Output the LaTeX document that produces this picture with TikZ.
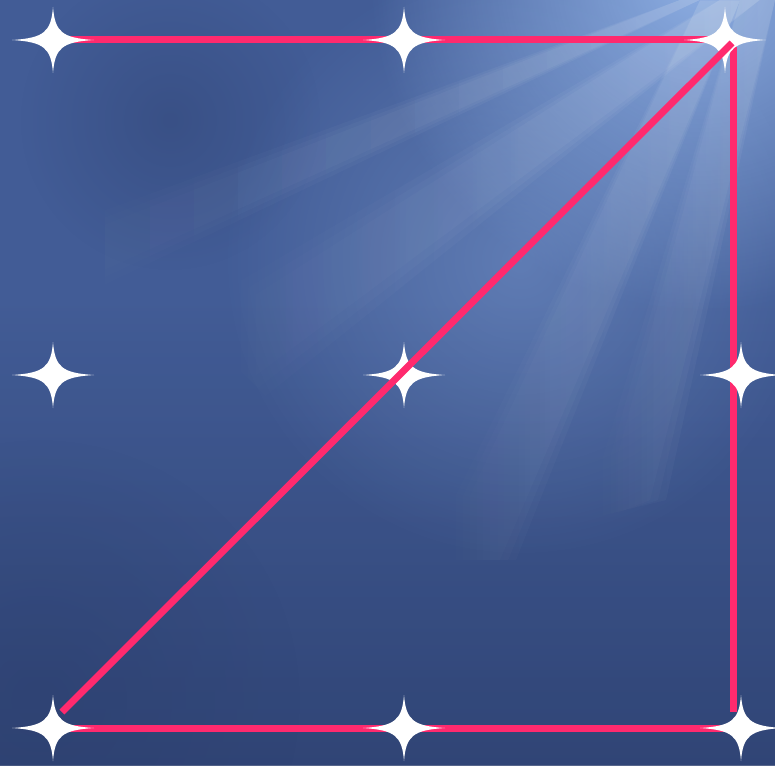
\documentclass[tikz,border=0pt]{standalone}
\usepackage{xcolor}
\usepackage{tikz}
\usetikzlibrary{fadings}
\definecolor{SkyDeep}{RGB}{44, 63, 110}
\definecolor{SkyMid}{RGB}{66, 92, 150}
\definecolor{SkyGlow}{RGB}{150, 184, 236}
\definecolor{RosePink}{RGB}{255, 42, 110}

\tikzfading[name=glowfade, inner color=transparent!0, outer color=transparent!100]
\tikzfading[name=rayfade, left color=transparent!100, right color=transparent!0]

\tikzset{
  sparkle/.pic={
    \fill[white] (41,0) .. controls (9,-2) and (2,-8) .. (0,-33)
      .. controls (-2,-8) and (-9,-2) .. (-41,0)
      .. controls (-9,2) and (-2,8) .. (0,33)
      .. controls (2,8) and (9,2) .. (41,0) -- cycle;
  }
}

\begin{document}
\begin{tikzpicture}[x=1pt, y=-1pt]
  \tikzstyle{link} = [draw=RosePink, line width=7pt]
  \tikzstyle{ray} = [fill=white, opacity=0.06, path fading=rayfade]

  \useasboundingbox (0,0) rectangle (775,765);

  % sky
  \begin{scope}
    \clip (0,0) rectangle (775,765);
    \fill[SkyMid] (0,0) rectangle (775,765);
    \shade[top color=SkyMid, bottom color=SkyDeep, opacity=0.8] (0,300) rectangle (775,765);
    \fill[SkyGlow, opacity=0.9, path fading=glowfade] (700,-20) circle [radius=330pt];
    \fill[SkyGlow, opacity=0.35, path fading=glowfade] (520,260) circle [radius=300pt];
    \fill[SkyDeep, opacity=0.5, path fading=glowfade] (40,700) circle [radius=260pt];
    \fill[SkyDeep, opacity=0.4, path fading=glowfade] (170,120) circle [radius=150pt];

    % light rays
    \foreach \w in {0,8,16} {
      \fill[ray] (200-\w,330-\w) -- (720,0) -- (760,0) -- (250+\w,380+\w) -- cycle;
      \fill[ray] (440-\w,560) -- (700,0) -- (740,0) -- (500+\w,560) -- cycle;
      \fill[ray] (40,250-\w) -- (680,0) -- (700,0) -- (60,290+\w) -- cycle;
      \fill[ray] (600-\w,520) -- (740,0) -- (775,0) -- (650+\w,500) -- cycle;
    }
  \end{scope}

  % star positions
  \coordinate (topL) at (53,40);
  \coordinate (topM) at (404,40);
  \coordinate (topR) at (725,40);
  \coordinate (midL) at (53,375);
  \coordinate (midM) at (404,375);
  \coordinate (midR) at (741,375);
  \coordinate (botL) at (53,728);
  \coordinate (botM) at (404,728);
  \coordinate (botR) at (741,728);

  % line ends
  \coordinate (rightTop) at (733,47);
  \coordinate (rightBot) at (733,712);
  \coordinate (diagTop) at (732,43);
  \coordinate (diagBot) at (62,712);

  \path [link] (topL) -- (topR);
  \path [link] (botL) -- (botR);
  \path [link] (rightTop) -- (rightBot);

  \foreach \s in {topL,topM,topR,midL,midM,midR,botL,botM,botR}
    \pic at (\s) {sparkle};

  \path [link] (diagBot) -- (diagTop);
\end{tikzpicture}
\end{document}
